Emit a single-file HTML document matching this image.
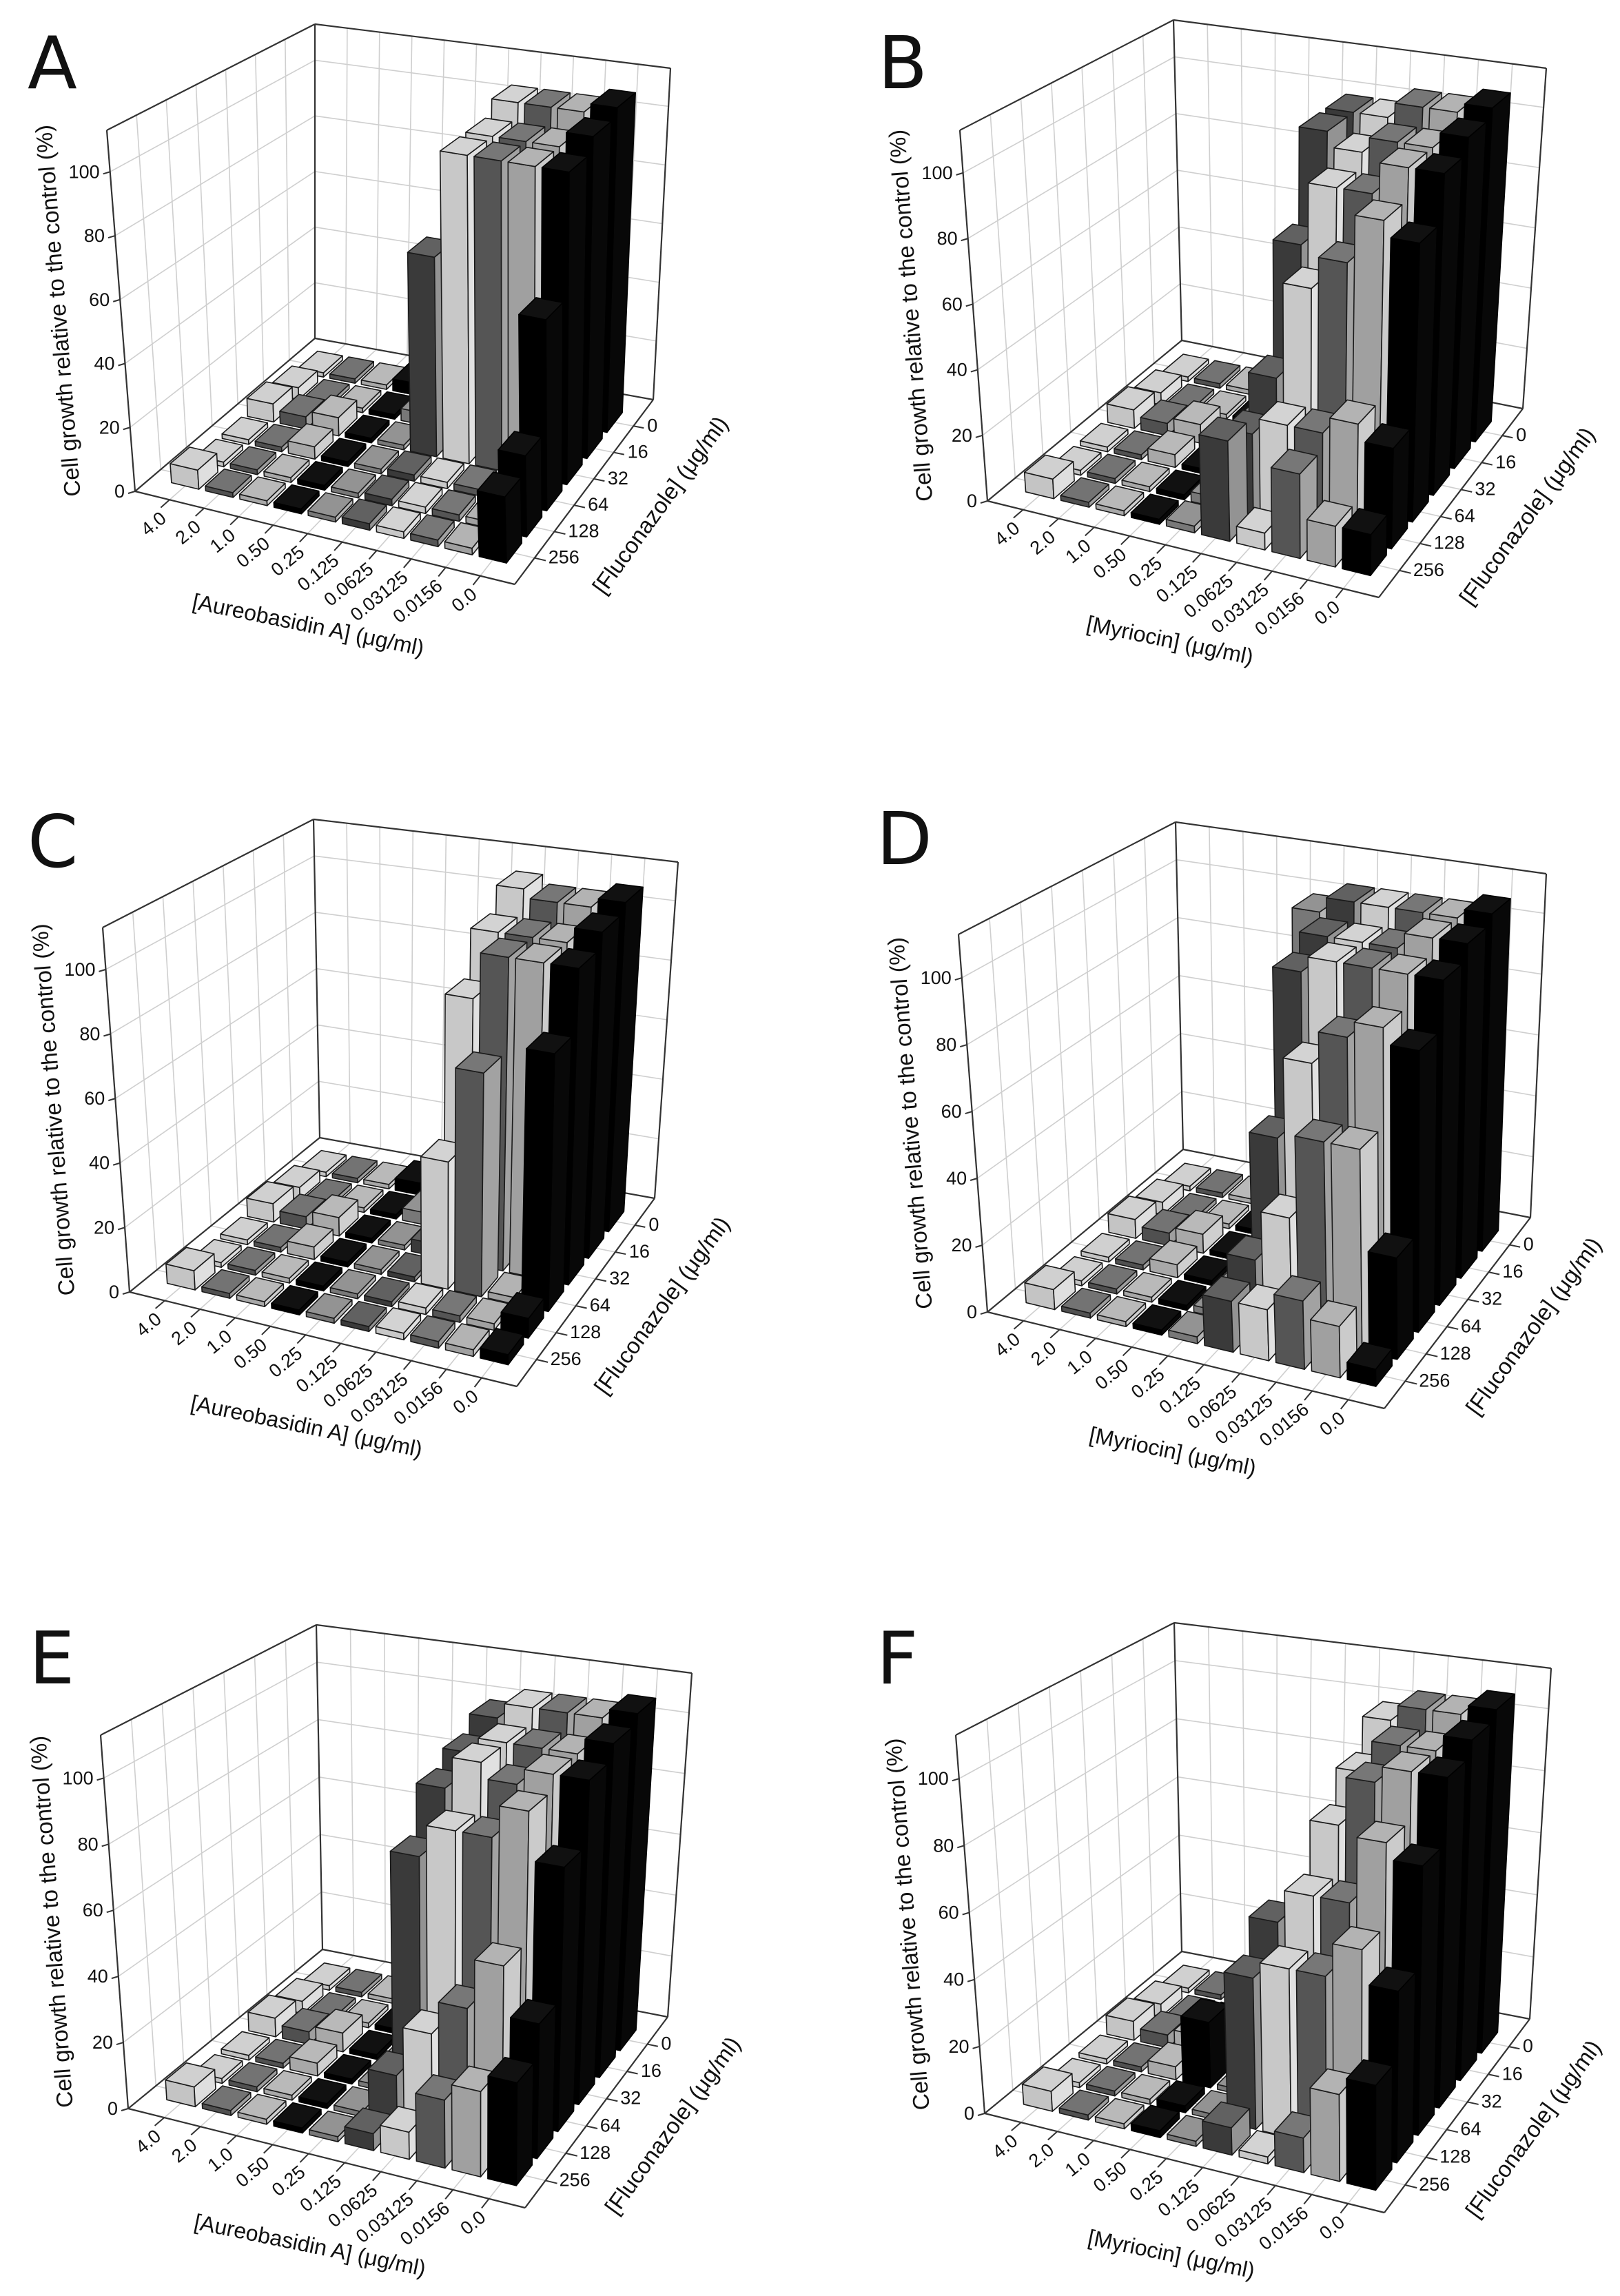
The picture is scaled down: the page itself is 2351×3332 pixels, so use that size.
<!DOCTYPE html>
<html><head><meta charset="utf-8"><style>
html,body{margin:0;padding:0;background:#fff}
svg{display:block}
text{font-family:"Liberation Sans","DejaVu Sans",sans-serif;fill:#111}
.yt,.xt,.zt{font-size:27px}
.yl{font-size:33px}
.xl{font-size:32px}
.zl{font-size:33px}
.lab{font-size:105px;font-family:"DejaVu Sans","Liberation Sans",sans-serif}
</style></head><body>
<svg id="S" width="2351" height="3332" viewBox="0 0 2351 3332" xmlns="http://www.w3.org/2000/svg">
<rect width="2351" height="3332" fill="#fff"/>
<g id="pA"><text class="lab">A</text>
<text class="yt">0</text><text class="yt">20</text><text class="yt">40</text><text class="yt">60</text><text class="yt">80</text><text class="yt">100</text>
<text class="xt">4.0</text><text class="xt">2.0</text><text class="xt">1.0</text><text class="xt">0.50</text><text class="xt">0.25</text><text class="xt">0.125</text><text class="xt">0.0625</text><text class="xt">0.03125</text><text class="xt">0.0156</text><text class="xt">0.0</text>
<text class="zt">256</text><text class="zt">128</text><text class="zt">64</text><text class="zt">32</text><text class="zt">16</text><text class="zt">0</text>
<text class="yl">Cell growth relative to the control (%)</text><text class="xl">[Aureobasidin A] (μg/ml)</text><text class="zl">[Fluconazole] (μg/ml)</text></g>
<g id="pB"><text class="lab">B</text>
<text class="yt">0</text><text class="yt">20</text><text class="yt">40</text><text class="yt">60</text><text class="yt">80</text><text class="yt">100</text>
<text class="xt">4.0</text><text class="xt">2.0</text><text class="xt">1.0</text><text class="xt">0.50</text><text class="xt">0.25</text><text class="xt">0.125</text><text class="xt">0.0625</text><text class="xt">0.03125</text><text class="xt">0.0156</text><text class="xt">0.0</text>
<text class="zt">256</text><text class="zt">128</text><text class="zt">64</text><text class="zt">32</text><text class="zt">16</text><text class="zt">0</text>
<text class="yl">Cell growth relative to the control (%)</text><text class="xl">[Myriocin] (μg/ml)</text><text class="zl">[Fluconazole] (μg/ml)</text></g>
<g id="pC"><text class="lab">C</text>
<text class="yt">0</text><text class="yt">20</text><text class="yt">40</text><text class="yt">60</text><text class="yt">80</text><text class="yt">100</text>
<text class="xt">4.0</text><text class="xt">2.0</text><text class="xt">1.0</text><text class="xt">0.50</text><text class="xt">0.25</text><text class="xt">0.125</text><text class="xt">0.0625</text><text class="xt">0.03125</text><text class="xt">0.0156</text><text class="xt">0.0</text>
<text class="zt">256</text><text class="zt">128</text><text class="zt">64</text><text class="zt">32</text><text class="zt">16</text><text class="zt">0</text>
<text class="yl">Cell growth relative to the control (%)</text><text class="xl">[Aureobasidin A] (μg/ml)</text><text class="zl">[Fluconazole] (μg/ml)</text></g>
<g id="pD"><text class="lab">D</text>
<text class="yt">0</text><text class="yt">20</text><text class="yt">40</text><text class="yt">60</text><text class="yt">80</text><text class="yt">100</text>
<text class="xt">4.0</text><text class="xt">2.0</text><text class="xt">1.0</text><text class="xt">0.50</text><text class="xt">0.25</text><text class="xt">0.125</text><text class="xt">0.0625</text><text class="xt">0.03125</text><text class="xt">0.0156</text><text class="xt">0.0</text>
<text class="zt">256</text><text class="zt">128</text><text class="zt">64</text><text class="zt">32</text><text class="zt">16</text><text class="zt">0</text>
<text class="yl">Cell growth relative to the control (%)</text><text class="xl">[Myriocin] (μg/ml)</text><text class="zl">[Fluconazole] (μg/ml)</text></g>
<g id="pE"><text class="lab">E</text>
<text class="yt">0</text><text class="yt">20</text><text class="yt">40</text><text class="yt">60</text><text class="yt">80</text><text class="yt">100</text>
<text class="xt">4.0</text><text class="xt">2.0</text><text class="xt">1.0</text><text class="xt">0.50</text><text class="xt">0.25</text><text class="xt">0.125</text><text class="xt">0.0625</text><text class="xt">0.03125</text><text class="xt">0.0156</text><text class="xt">0.0</text>
<text class="zt">256</text><text class="zt">128</text><text class="zt">64</text><text class="zt">32</text><text class="zt">16</text><text class="zt">0</text>
<text class="yl">Cell growth relative to the control (%)</text><text class="xl">[Aureobasidin A] (μg/ml)</text><text class="zl">[Fluconazole] (μg/ml)</text></g>
<g id="pF"><text class="lab">F</text>
<text class="yt">0</text><text class="yt">20</text><text class="yt">40</text><text class="yt">60</text><text class="yt">80</text><text class="yt">100</text>
<text class="xt">4.0</text><text class="xt">2.0</text><text class="xt">1.0</text><text class="xt">0.50</text><text class="xt">0.25</text><text class="xt">0.125</text><text class="xt">0.0625</text><text class="xt">0.03125</text><text class="xt">0.0156</text><text class="xt">0.0</text>
<text class="zt">256</text><text class="zt">128</text><text class="zt">64</text><text class="zt">32</text><text class="zt">16</text><text class="zt">0</text>
<text class="yl">Cell growth relative to the control (%)</text><text class="xl">[Myriocin] (μg/ml)</text><text class="zl">[Fluconazole] (μg/ml)</text></g>
</svg>
<script>
(function(){
var NS="http://www.w3.org/2000/svg";
var MAX=113;
var P=[
{id:"pA",lab:[44,128],L:[196,713],Lt:[155,189],B:[457,491],Bt:[457,35],R:[948,580],Rt:[973,99],F:[747,848],xo:[-24,126],
 d:{5:[2,2,65,2,2,2],6:[105,100,100,2,2,2],7:[105,100,100,2,2,2],8:[105,100,100,2,2,2],9:[108,105,100,60,25,20]}},
{id:"pB",lab:[1278,128],L:[1433,727],Lt:[1393,189],B:[1715,494],Bt:[1703,29],R:[2210,593],Rt:[2244,99],F:[2001,867],xo:[-19,132],
 d:{4:[3,3,12,8,3,2],5:[100,100,70,35,25,30],6:[100,95,90,65,30,5],7:[105,100,90,75,30,25],8:[105,100,100,90,35,12],9:[108,105,100,85,30,12]}},
{id:"pC",lab:[44,1258],L:[188,1875],Lt:[149,1346],B:[464,1651],Bt:[455,1189],R:[950,1739],Rt:[984,1251],F:[750,2012],xo:[-24,126],
 d:{6:[108,100,85,40,2,2],7:[105,100,100,70,2,2],8:[105,100,100,2,2,2],9:[108,105,100,80,6,3]}},
{id:"pD",lab:[1276,1254],L:[1433,1904],Lt:[1391,1356],B:[1717,1668],Bt:[1706,1193],R:[2221,1767],Rt:[2244,1268],F:[2009,2044],xo:[-19,132],
 d:{4:[100,2,2,2,2,2],5:[105,100,95,50,20,15],6:[105,100,100,75,35,15],7:[105,100,100,85,60,20],8:[105,105,100,90,60,15],9:[108,105,100,85,30,5]}},
{id:"pE",lab:[46,2443],L:[186,3060],Lt:[146,2518],B:[468,2829],Bt:[459,2358],R:[969,2927],Rt:[1004,2428],F:[762,3204],xo:[-24,126],
 d:{5:[100,95,90,75,15,5],6:[105,100,100,85,30,8],7:[105,100,95,85,40,20],8:[105,100,100,95,55,25],9:[108,105,100,80,40,30]}},
{id:"pF",lab:[1276,2443],L:[1429,3067],Lt:[1387,2518],B:[1715,2832],Bt:[1704,2355],R:[2220,2930],Rt:[2251,2421],F:[2009,3211],xo:[-19,132],
 d:{3:[2,2,2,20,2,2],5:[2,2,2,55,45,8],6:[100,90,80,65,50,2],7:[105,100,95,65,50,10],8:[105,100,100,85,60,25],9:[108,105,100,80,50,30]}}
];
var pal=[0xc4,0x50,0xa8,0x00,0x78,0x3a,0xc8,0x55,0xa0,0x00];
function hex(v){v=Math.max(0,Math.min(255,Math.round(v)));var s=v.toString(16);return s.length<2?"0"+s:s;}
function gray(v){var h=hex(v);return "#"+h+h+h;}
function el(n,a,par){var e=document.createElementNS(NS,n);for(var k in a)e.setAttribute(k,a[k]);par.appendChild(e);return e;}
P.forEach(function(c){
 var g=document.getElementById(c.id);
 var HL=[c.Lt[0]-c.L[0],c.Lt[1]-c.L[1]],HB=[c.Bt[0]-c.B[0],c.Bt[1]-c.B[1]],HR=[c.Rt[0]-c.R[0],c.Rt[1]-c.R[1]];
 var HF=[HL[0]+HR[0]-HB[0],HL[1]+HR[1]-HB[1]];
 function bil(a,b,cc,d,u,w){
  return [(1-u)*(1-w)*a[0]+u*(1-w)*b[0]+(1-u)*w*cc[0]+u*w*d[0],(1-u)*(1-w)*a[1]+u*(1-w)*b[1]+(1-u)*w*cc[1]+u*w*d[1]];}
 function T(u,w,v){var p=bil(c.L,c.F,c.B,c.R,u,w),h=bil(HL,HF,HB,HR,u,w);var f=v/MAX;return [p[0]+h[0]*f,p[1]+h[1]*f];}
 function pt(p){return p[0].toFixed(1)+","+p[1].toFixed(1);}
 var sh=document.createElementNS(NS,"g");g.insertBefore(sh,g.firstChild);
 var gs={stroke:"#cfcfcf","stroke-width":1.6,fill:"none"};
 function line(a,b,st){var o={x1:a[0],y1:a[1],x2:b[0],y2:b[1]};for(var k in st)o[k]=st[k];el("line",o,sh);}
 var k,v;
 for(k=0;k<=11;k++)line(T(k/11,0,0),T(k/11,1,0),gs);
 for(k=0;k<=7;k++)line(T(0,k/7,0),T(1,k/7,0),gs);
 for(k=0;k<=7;k++)line(T(0,k/7,0),T(0,k/7,MAX),gs);
 for(k=0;k<=11;k++)line(T(k/11,1,0),T(k/11,1,MAX),gs);
 for(v=20;v<=100;v+=20){line(T(0,0,v),T(0,1,v),gs);line(T(0,1,v),T(1,1,v),gs);}
 var bs={stroke:"#333","stroke-width":2.2,fill:"none"};
 line(T(0,0,0),T(0,0,MAX),bs);line(T(0,1,0),T(0,1,MAX),bs);line(T(1,1,0),T(1,1,MAX),bs);
 line(T(0,0,MAX),T(0,1,MAX),bs);line(T(0,1,MAX),T(1,1,MAX),bs);
 line(T(0,0,0),T(1,0,0),bs);line(T(1,0,0),T(1,1,0),bs);line(T(0,0,0),T(0,1,0),bs);line(T(0,1,0),T(1,1,0),bs);
 var ts={stroke:"#333","stroke-width":2};
 for(v=0;v<=100;v+=20){var a=T(0,0,v);line(a,[a[0]-10,a[1]+3],ts);}
 for(k=1;k<=10;k++)line(T(k/11,0,0),T(k/11,-0.05,0),ts);
 for(k=1;k<=6;k++)line(T(1,k/7,0),T(1.03,k/7,0),ts);
 var vals=[];for(var j=0;j<6;j++){vals[j]=[];for(var i=0;i<10;i++){var h=1.5;if((i+j)%4==0&&i<6&&j>=2)h=4;if(i==0&&(j==0||j==3))h=6;if(i==2&&j==3)h=6;vals[j][i]=h;}}
 for(var ci in c.d){var arr=c.d[ci];for(var f=0;f<6;f++){vals[5-f][+ci]=arr[f];}}
 var du=0.4/11,dw=0.38/7;
 for(var j=5;j>=0;j--){for(var i=0;i<10;i++){
  var h=vals[j][i],uc=(i+1)/11,wc=(j+1)/7,u0=uc-du,u1=uc+du,w0=wc-dw,w1=wc+dw;
  var base=pal[i];
  var cf=gray(base),cs=base==0?"#080808":gray(base+(255-base)*0.45),ct=base==0?"#111":gray(base+(255-base)*0.2);
  var st=base==0?"#000":"#1a1a1a";
  el("polygon",{points:[T(u0,w0,0),T(u1,w0,0),T(u1,w0,h),T(u0,w0,h)].map(pt).join(" "),fill:cf,stroke:st,"stroke-width":1.6,"stroke-linejoin":"round"},sh);
  el("polygon",{points:[T(u1,w0,0),T(u1,w1,0),T(u1,w1,h),T(u1,w0,h)].map(pt).join(" "),fill:cs,stroke:st,"stroke-width":1.6,"stroke-linejoin":"round"},sh);
  el("polygon",{points:[T(u0,w0,h),T(u1,w0,h),T(u1,w1,h),T(u0,w1,h)].map(pt).join(" "),fill:ct,stroke:st,"stroke-width":1.6,"stroke-linejoin":"round"},sh);
 }}
 var lab=g.querySelector(".lab");lab.setAttribute("x",c.lab[0]-4);lab.setAttribute("y",c.lab[1]);
 var yt=g.querySelectorAll(".yt");
 for(k=0;k<yt.length;k++){var p=T(0,0,k*20);yt[k].setAttribute("text-anchor","end");yt[k].setAttribute("x",p[0]-15);yt[k].setAttribute("y",p[1]+9);}
 var xt=g.querySelectorAll(".xt");
 for(k=0;k<xt.length;k++){var p=T((k+1)/11,0,0);var x=p[0]-3,y=p[1]+30;xt[k].setAttribute("text-anchor","end");xt[k].setAttribute("transform","translate("+x+","+y+") rotate(-39)");}
 var zt=g.querySelectorAll(".zt");
 for(k=0;k<zt.length;k++){var p=T(1,(k+1)/7,0);zt[k].setAttribute("x",p[0]+20);zt[k].setAttribute("y",p[1]+8);}
 var ax=[c.Lt[0]-c.L[0],c.Lt[1]-c.L[1]],ang=Math.atan2(ax[1],ax[0])*180/Math.PI;
 var yl=g.querySelector(".yl");var mx=(c.L[0]+c.Lt[0])/2-92,my=(c.L[1]+c.Lt[1])/2;
 yl.setAttribute("text-anchor","middle");yl.setAttribute("transform","translate("+mx+","+my+") rotate("+ang.toFixed(1)+") translate(0,12)");
 var xl=g.querySelector(".xl");var xm=(c.L[0]+c.F[0])/2+c.xo[0],ym=(c.L[1]+c.F[1])/2+c.xo[1];
 xl.setAttribute("text-anchor","middle");xl.setAttribute("transform","translate("+xm+","+ym+") rotate(11.6) translate(0,11)");
 var zl=g.querySelector(".zl");var zm=(c.F[0]+c.R[0])/2+111,zy=(c.F[1]+c.R[1])/2+19;
 zl.setAttribute("text-anchor","middle");zl.setAttribute("transform","translate("+zm+","+zy+") rotate(-54) translate(0,11)");
});
})();
</script>
</body></html>
